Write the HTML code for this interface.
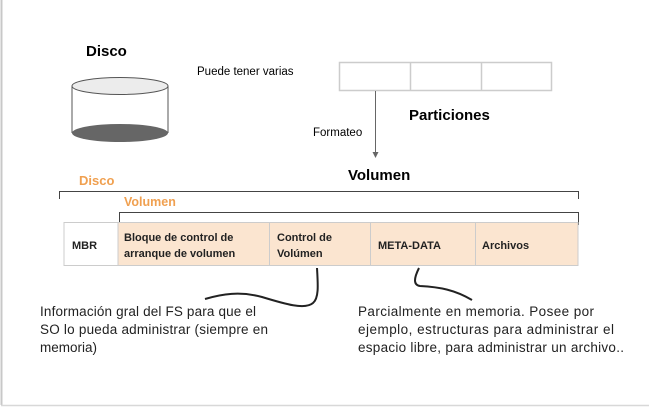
<!DOCTYPE html>
<html><head><meta charset="utf-8"><style>
body{margin:0;width:649px;height:407px;background:#fff;overflow:hidden}
</style></head><body>
<svg width="649" height="407" xmlns="http://www.w3.org/2000/svg" font-family="Liberation Sans, sans-serif">
<line x1="1.5" y1="0" x2="1.5" y2="405" stroke="#c8c8c8" stroke-width="2"/>
<line x1="1" y1="405.5" x2="649" y2="405.5" stroke="#d8d8d8" stroke-width="1.5"/>
<text x="86" y="56" font-size="15" font-weight="bold">Disco</text>
<path d="M72 86 V133 M168 86 V133" stroke="#555" fill="none"/>
<ellipse cx="120" cy="133" rx="48" ry="9" fill="#666"/>
<ellipse cx="120" cy="86" rx="48" ry="8.5" fill="#ececec" stroke="#555"/>
<text x="197" y="75" font-size="11.5">Puede tener varias</text>
<rect x="339.5" y="62.5" width="212" height="28" fill="#fff" stroke="#ccc" stroke-width="1.5"/>
<line x1="410.5" y1="62" x2="410.5" y2="91" stroke="#ccc" stroke-width="1.5"/>
<line x1="481.5" y1="62" x2="481.5" y2="91" stroke="#ccc" stroke-width="1.5"/>
<text x="409" y="120" font-size="15" font-weight="bold">Particiones</text>
<line x1="375.5" y1="91" x2="375.5" y2="153" stroke="#666"/>
<path d="M372.5 152 L378.5 152 L375.5 158 Z" fill="#666"/>
<text x="313" y="136" font-size="11.5">Formateo</text>
<text x="348" y="180" font-size="15" font-weight="bold">Volumen</text>
<text x="79" y="185" font-size="13" fill="#f0a050" font-weight="bold">Disco</text>
<path d="M59.5 199 V191.5 H578.5 V199" fill="none" stroke="#444"/>
<text x="124" y="206" font-size="12.5" fill="#f0a050" font-weight="bold">Volumen</text>
<path d="M119.5 225 V212.5 H578.5 V225" fill="none" stroke="#444"/>
<rect x="64" y="222.5" width="54" height="43" fill="#fff" stroke="#ccc"/>
<rect x="118" y="222.5" width="460" height="43" fill="#fbe5d0" stroke="#ccc"/>
<g stroke="#ccc"><line x1="269.5" y1="222" x2="269.5" y2="266"/><line x1="370.5" y1="222" x2="370.5" y2="266"/><line x1="475.5" y1="222" x2="475.5" y2="266"/></g>
<g font-size="11" font-weight="bold" fill="#222">
<text x="72" y="249">MBR</text>
<text x="124" y="241">Bloque de control de</text>
<text x="124" y="257">arranque de volumen</text>
<text x="277" y="241">Control de</text>
<text x="277" y="257">Volúmen</text>
<text x="378" y="249">META-DATA</text>
<text x="482" y="249">Archivos</text>
</g>
<path d="M317 268 C318 285 319 298 313 303 C305 310 285 304 262 297 C240 291 222 294 205 299" fill="none" stroke="#222" stroke-width="2"/>
<path d="M419 268 C414 278 413 285 420 286 C440 287 455 290 472 300" fill="none" stroke="#222" stroke-width="2"/>
<g font-size="13.5" fill="#222">
<text x="40" y="316" textLength="216">Información gral del FS para que el</text>
<text x="40" y="334" textLength="228">SO lo pueda administrar (siempre en</text>
<text x="40" y="352">memoria)</text>
<text x="358" y="316" textLength="236">Parcialmente en memoria. Posee por</text>
<text x="358" y="334" textLength="256">ejemplo, estructuras para administrar el</text>
<text x="358" y="352" textLength="266">espacio libre, para administrar un archivo..</text>
</g>
</svg>
</body></html>
